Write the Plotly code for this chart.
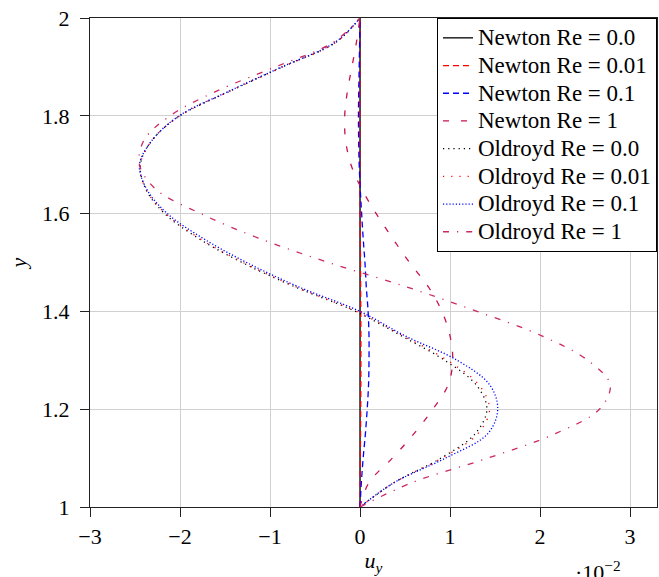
import plotly.graph_objects as go

# y positions (shared by all profiles)
y_vals = [1.00, 1.05, 1.10, 1.15, 1.20, 1.25, 1.30, 1.35, 1.40, 1.45, 1.50,
          1.55, 1.60, 1.65, 1.70, 1.75, 1.80, 1.85, 1.90, 1.95, 2.00]

# u_y values in units of 1e-2
newton_re0 = [0.0] * 21
newton_re001 = [0, 0.0015, 0.0035, 0.006, 0.008, 0.0095, 0.010, 0.010, 0.009, 0.007, 0.0055,
                0.0035, 0.0018, 0.0003, -0.0009, -0.0015, -0.0017, -0.0014, -0.0009, -0.0004, 0]
newton_re01 = [0, 0.015, 0.035, 0.06, 0.08, 0.095, 0.10, 0.10, 0.09, 0.07, 0.055,
               0.035, 0.018, 0.003, -0.009, -0.015, -0.017, -0.014, -0.009, -0.004, 0]
newton_re1 = [0, 0.10, 0.36, 0.60, 0.81, 0.98, 1.03, 1.00, 0.91, 0.76, 0.55,
              0.36, 0.18, 0.02, -0.10, -0.16, -0.17, -0.14, -0.09, -0.04, 0]
oldroyd_re0 = [0, 0.38, 0.90, 1.28, 1.41, 1.29, 0.94, 0.46, -0.05, -0.72, -1.31,
               -1.80, -2.17, -2.38, -2.44, -2.31, -2.00, -1.45, -0.86, -0.27, 0]
oldroyd_re001 = [0, 0.38, 0.91, 1.31, 1.44, 1.32, 0.97, 0.48, -0.04, -0.71, -1.30,
                 -1.79, -2.16, -2.38, -2.44, -2.31, -2.00, -1.45, -0.86, -0.27, 0]
oldroyd_re01 = [0, 0.38, 0.95, 1.42, 1.53, 1.44, 1.08, 0.50, 0.0, -0.68, -1.26,
                -1.75, -2.14, -2.37, -2.45, -2.31, -2.01, -1.46, -0.87, -0.28, 0]
oldroyd_re1 = [0, 0.58, 1.42, 2.17, 2.66, 2.78, 2.53, 2.02, 1.30, 0.52, -0.35,
               -1.13, -1.77, -2.27, -2.45, -2.40, -2.11, -1.60, -0.94, -0.30, 0]

series = [
    ("Newton Re = 0.0", newton_re0, "#000000", "solid"),
    ("Newton Re = 0.01", newton_re001, "#ff0000", "6px,4px"),
    ("Newton Re = 0.1", newton_re01, "#0000ff", "6px,4px"),
    ("Newton Re = 1", newton_re1, "#c8134c", "6px,12px"),
    ("Oldroyd Re = 0.0", oldroyd_re0, "#000000", "1.2px,4px"),
    ("Oldroyd Re = 0.01", oldroyd_re001, "#ff0000", "1.2px,7px"),
    ("Oldroyd Re = 0.1", oldroyd_re01, "#0000ff", "1.2px,2px"),
    ("Oldroyd Re = 1", oldroyd_re1, "#cc2a60", "6px,8px,1.2px,8px"),
]

font_family = "Liberation Serif"
LEGEND_TEXT_PX = 23

fig = go.Figure()
for name, xs, color, dash in series:
    fig.add_trace(go.Scatter(
        x=xs, y=y_vals, mode="lines",
        name=f'<span style="font-size:{LEGEND_TEXT_PX}px">{name}</span>',
        line=dict(color=color, width=1.3, dash=dash, shape="spline", smoothing=1.0),
    ))

fig.update_layout(
    width=659, height=577,
    margin=dict(l=90, r=2, t=18, b=70),
    paper_bgcolor="white", plot_bgcolor="white",
    font=dict(family=font_family, size=22, color="black"),
    showlegend=True,
    legend=dict(
        x=1, y=1, xanchor="right", yanchor="top",
        bgcolor="white", bordercolor="black", borderwidth=1,
        font=dict(family=font_family, size=19, color="black"),
        tracegroupgap=0,
    ),
    xaxis=dict(
        range=[-3, 3.3], dtick=1, tick0=0,
        showgrid=True, gridcolor="#d0d0d0", gridwidth=1,
        zeroline=False, automargin=False,
        showline=True, mirror=True, linecolor="#222222", linewidth=1.2,
        ticks="outside", ticklen=9, tickcolor="#222222",
        ticklabelstandoff=0,
        title=dict(text="<i>u</i><sub><i>y</i></sub>", standoff=4,
                   font=dict(family=font_family, size=22)),
    ),
    yaxis=dict(
        range=[1, 2], dtick=0.2, tick0=1,
        showgrid=True, gridcolor="#d0d0d0", gridwidth=1,
        zeroline=False, automargin=False,
        showline=True, mirror=True, linecolor="#222222", linewidth=1.2,
        ticks="outside", ticklen=9, tickcolor="#222222",
        ticklabelstandoff=6,
        title=dict(text="<i>y</i>", standoff=9,
                   font=dict(family=font_family, size=22)),
    ),
)

fig.add_annotation(
    text="·10<sup>−2</sup>", xref="paper", yref="paper",
    x=0.940, y=-0.098, xanchor="right", yanchor="top", showarrow=False,
    font=dict(family=font_family, size=22, color="black"),
)

fig.write_html(
    "out.html",
    config={"responsive": False, "displayModeBar": False},
    post_script="document.body.style.margin='0';document.body.style.overflow='hidden';",
)
